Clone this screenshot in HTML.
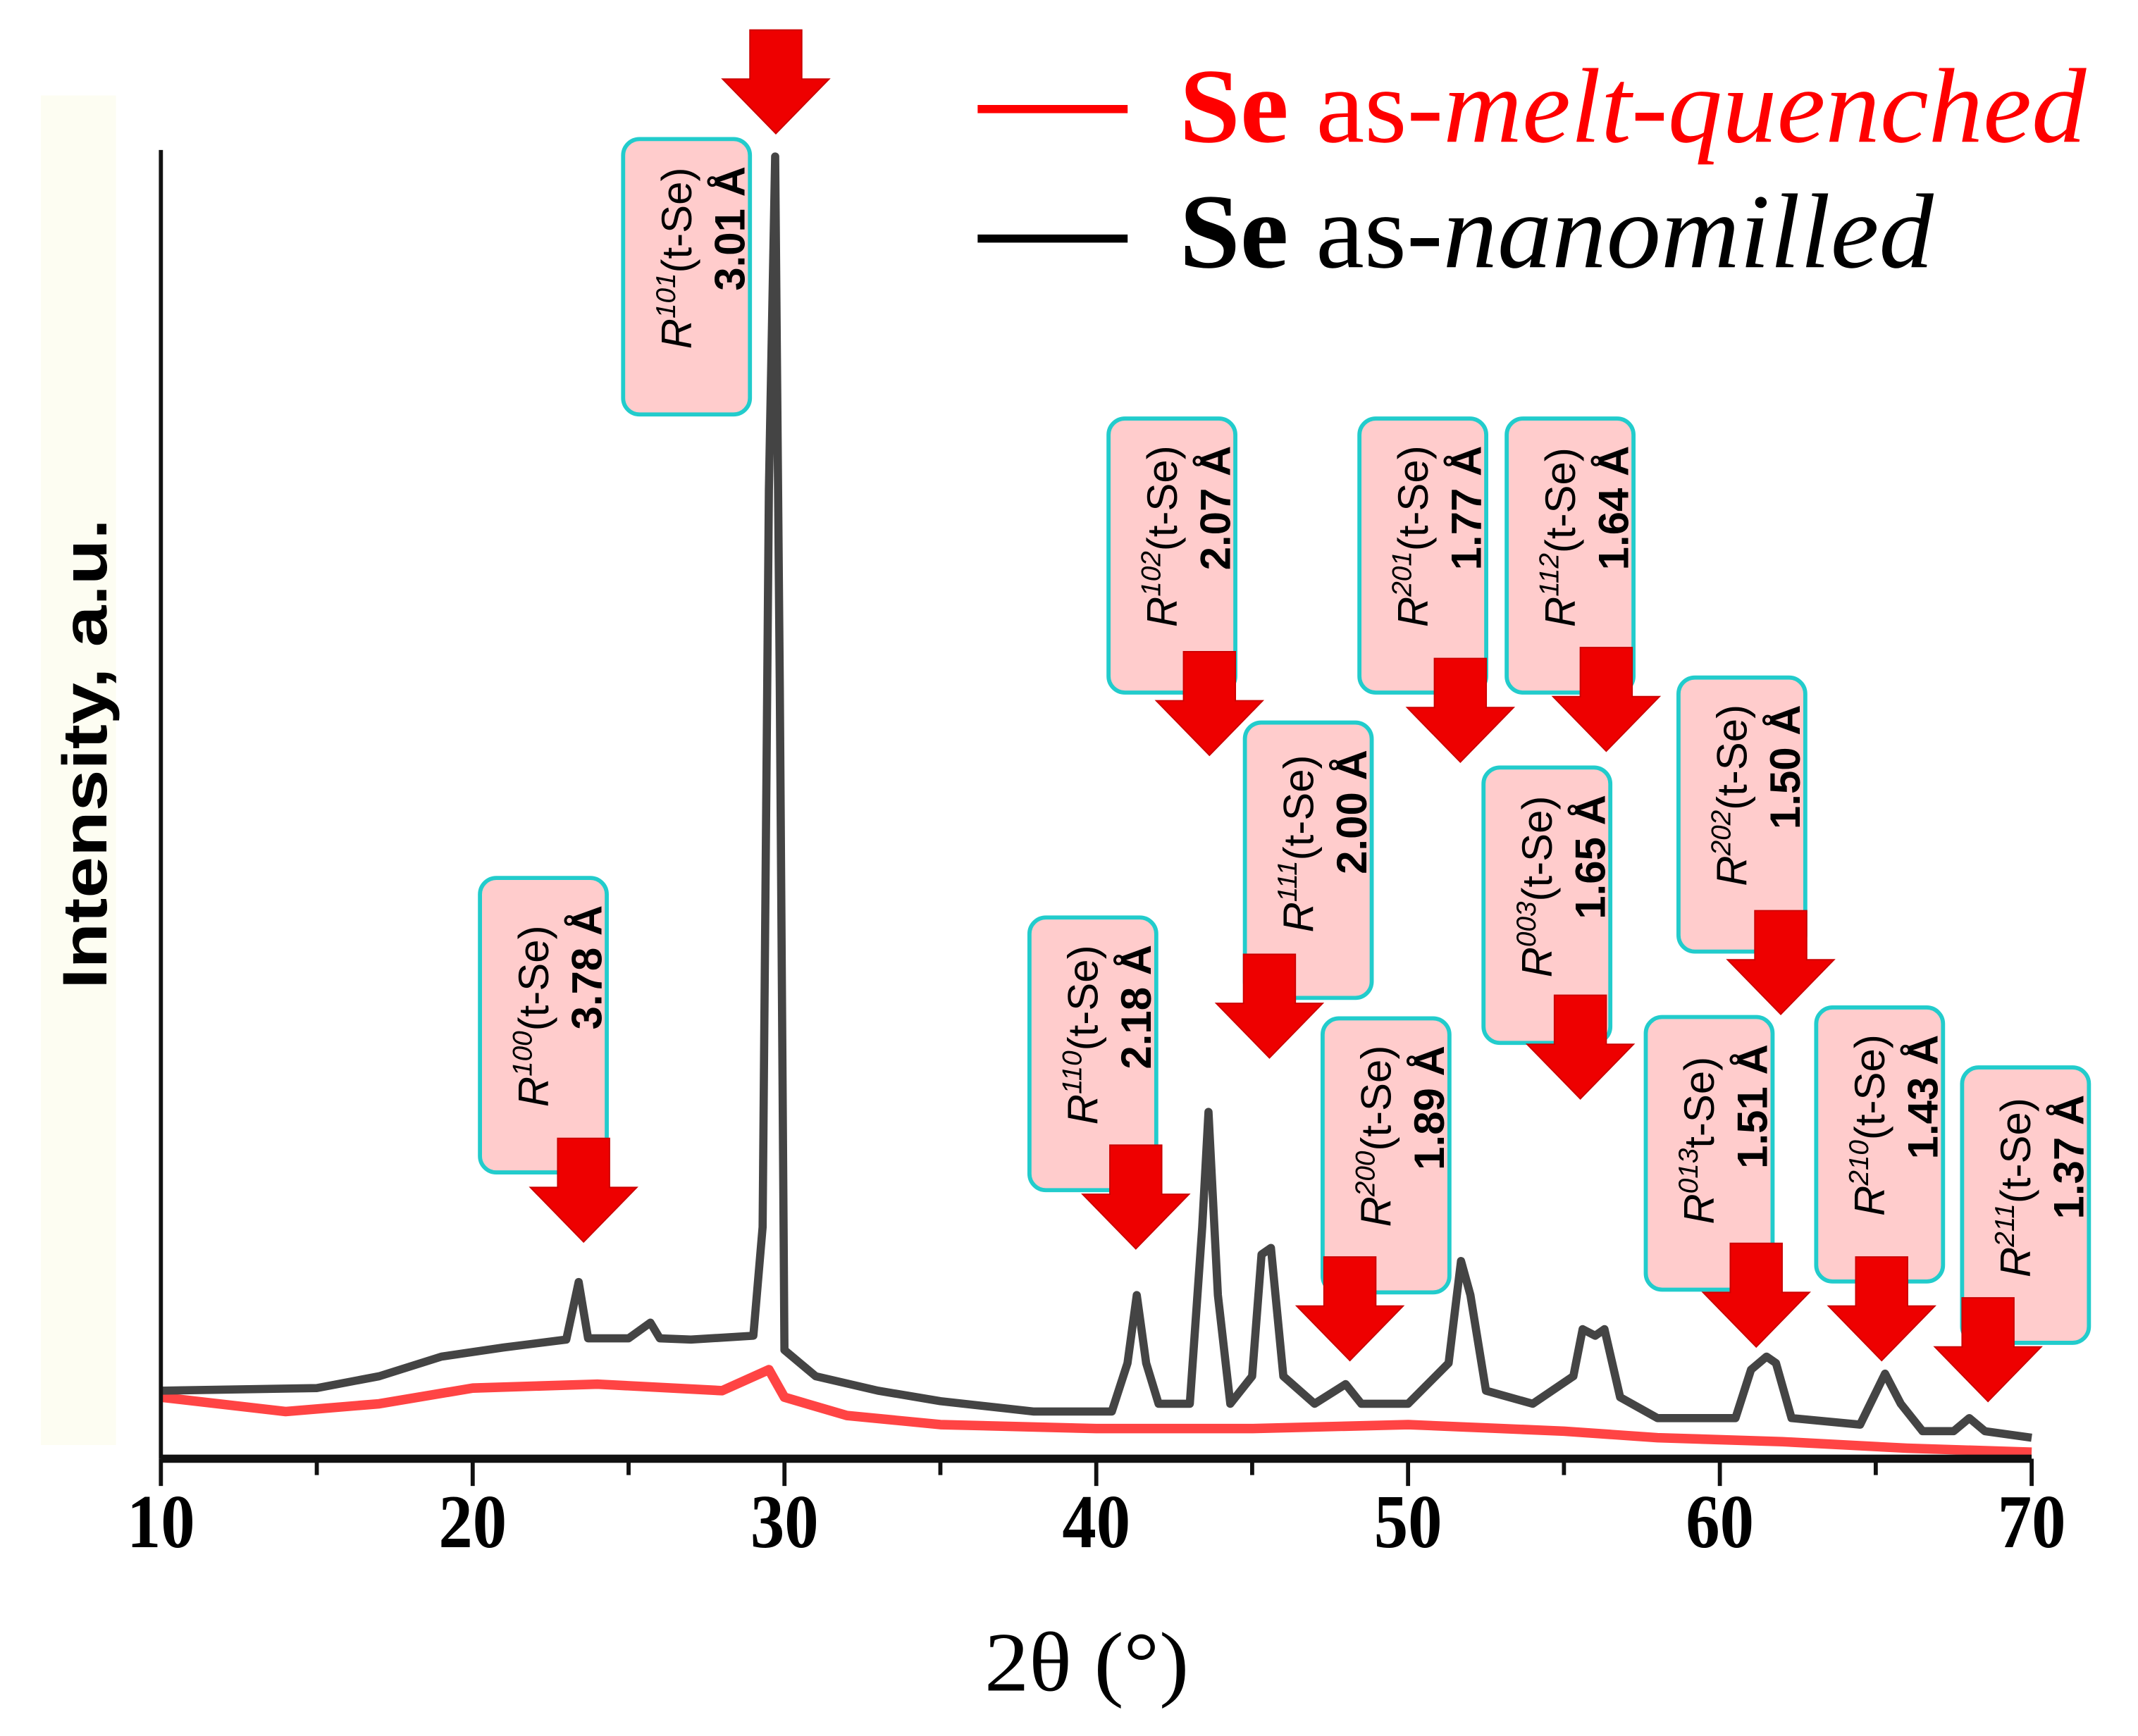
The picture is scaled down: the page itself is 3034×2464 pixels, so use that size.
<!DOCTYPE html>
<html><head><meta charset="utf-8"><style>
html,body{margin:0;padding:0;background:#fff}
svg{display:block}
</style></head><body>
<svg id="chart" width="3034" height="2464" viewBox="0 0 1568 1273.4" preserveAspectRatio="none" xmlns="http://www.w3.org/2000/svg">
<rect x="30" y="70" width="55" height="990" fill="#fdfdf2"/>
<g id="plot"></g>
<g id="axes"></g>
<g id="annots"></g>
<g>
<line x1="717" y1="80" x2="827" y2="80" stroke="#ff0000" stroke-width="6"/>
<text x="865" y="104" textLength="665" lengthAdjust="spacingAndGlyphs" font-family="'Liberation Serif',serif" font-size="78" fill="#ff0000"><tspan font-weight="bold">Se</tspan> as-<tspan font-style="italic">melt-quenched</tspan></text>
<line x1="717" y1="175" x2="827" y2="175" stroke="#000" stroke-width="6"/>
<text x="865" y="196" textLength="553" lengthAdjust="spacingAndGlyphs" font-family="'Liberation Serif',serif" font-size="78" fill="#000"><tspan font-weight="bold">Se</tspan> as-<tspan font-style="italic">nanomilled</tspan></text>
</g>
<text transform="translate(78,553) rotate(-90)" text-anchor="middle" textLength="345" lengthAdjust="spacingAndGlyphs" font-family="'Liberation Sans',sans-serif" font-weight="bold" font-size="46">Intensity, a.u.</text>
<text x="797" y="1240" text-anchor="middle" textLength="150" lengthAdjust="spacingAndGlyphs" font-family="'Liberation Serif',serif" font-size="62">2θ (°)</text>
</svg>
<script>
const nanoX=[10,15,17,19,21,23,23.4,23.7,25,25.7,26,27,29,29.3,29.5,29.7,29.85,30,31,33,35,38,40.5,41,41.3,41.6,42,43,43.4,43.6,43.9,44.3,45,45.3,45.6,46,47,48,48.5,50,51.3,51.7,52,52.5,54,55.3,55.6,56,56.3,56.8,58,60.5,61,61.5,61.8,62.3,64.5,65.3,65.8,66.5,67.5,68,68.5,70];
const nanoY=[5.2,5.4,6.3,7.8,8.5,9.1,13.5,9.2,9.2,10.4,9.2,9.1,9.4,17.7,74,99.5,59,8.3,6.3,5.2,4.4,3.6,3.6,7.3,12.5,7.3,4.2,4.2,17.7,26.5,12.5,4.2,6.3,15.6,16.1,6.3,4.2,5.7,4.2,4.2,7.3,15.1,12.5,5.2,4.2,6.3,9.9,9.4,9.9,4.7,3.1,3.1,6.8,7.8,7.3,3.1,2.6,6.5,4.2,2.1,2.1,3.1,2.1,1.6];
const meltX=[10,14,17,20,24,28,29.5,30,32,35,40,45,50,53,55,58,62,66,70];
const meltY=[4.7,3.6,4.2,5.4,5.7,5.2,6.8,4.7,3.3,2.6,2.3,2.3,2.6,2.3,2.1,1.6,1.3,0.8,0.5];
const xTicks=[10,20,30,40,50,60,70];
const peakLabels=[["100","3.78 Å"],["101","3.01 Å"],["110","2.18 Å"],["102","2.07 Å"],["111","2.00 Å"],["200","1.89 Å"],["201","1.77 Å"],["112","1.64 Å"],["003","1.65 Å"],["202","1.50 Å"],["013","1.51 Å"],["210","1.43 Å"],["211","1.37 Å"]];
const NS="http://www.w3.org/2000/svg";
const X0=118,X1=1490,Y0=1070,Y1=110;
const sx=v=>X0+(v-10)/60*(X1-X0);
const sy=v=>Y0-v/100*(Y0-Y1);
function mk(tag,attrs,parent){const e=document.createElementNS(NS,tag);for(const k in attrs)e.setAttribute(k,attrs[k]);parent.appendChild(e);return e;}
const plot=document.getElementById('plot');
let d='';meltX.forEach((x,i)=>d+=(i?'L':'M')+sx(x).toFixed(1)+','+sy(meltY[i]).toFixed(1));
const pm=mk('path',{d:d,fill:'none',stroke:'#f44',"stroke-width":7,"stroke-linejoin":'round'},plot);


d='';nanoX.forEach((x,i)=>d+=(i?'L':'M')+sx(x).toFixed(1)+','+sy(nanoY[i]).toFixed(1));
const pn=mk('path',{d:d,fill:'none',stroke:'#444',"stroke-width":6,"stroke-linejoin":'round'},plot);


const axes=document.getElementById('axes');
const ya=mk('line',{x1:X0,y1:Y1,x2:X0,y2:Y0,stroke:'#111',"stroke-width":3},axes);


const xa=mk('line',{x1:X0,y1:Y0,x2:X1,y2:Y0,stroke:'#111',"stroke-width":6},axes);


for(let v=10;v<=70;v+=5){const major=v%10===0;const t=mk('line',{x1:sx(v),y1:Y0,x2:sx(v),y2:Y0+(major?20:12),stroke:'#111',"stroke-width":3},axes);

}
xTicks.forEach(v=>{const t=mk('text',{x:sx(v),y:1135,"text-anchor":'middle',textLength:50,lengthAdjust:'spacingAndGlyphs',"font-family":"'Liberation Serif',serif","font-weight":'bold',"font-size":56},axes);t.textContent=v;

});
const boxes=[[352,644,860,428,835],[457,102,304,569,22],[755,673,873,833,840],[813,307,508,887,478],[913,530,732,931,700],[970,747,948,990,922],[997,307,508,1071,483],[1105,307,508,1178,475],[1088,563,765,1159,730],[1231,497,698,1306,668],[1207,746,946,1288,912],[1332,739,940,1380,922],[1439,783,985,1458,952]];
const an=document.getElementById('annots');
boxes.forEach((b,i)=>{const g=mk('g',{},an);


mk('rect',{x:b[0],y:b[1],width:93,height:b[2]-b[1],rx:12,fill:'#ffcccc',stroke:'#22cccc',"stroke-width":3},g);
const t1=mk('text',{transform:`translate(${b[0]+50},${b[2]-48}) rotate(-90)`,"font-family":"'Liberation Sans',sans-serif","font-size":31},g);
t1.innerHTML=`<tspan font-style="italic">R</tspan><tspan font-size="20" dy="-12" font-style="italic">${peakLabels[i][0]}</tspan><tspan dy="12">${i==10?'t-Se)':'(t-Se)'}</tspan>`;
const t2=mk('text',{transform:`translate(${b[0]+89},${b[1]+20}) rotate(-90)`,"text-anchor":'end',"font-family":"'Liberation Sans',sans-serif","font-weight":'bold',"font-size":31},g);
t2.textContent=peakLabels[i][1];
const ax=b[3],at=b[4];
const ar=mk('path',{d:`M${ax-19},${at}L${ax+19},${at}L${ax+19},${at+36}L${ax+39},${at+36}L${ax},${at+76}L${ax-39},${at+36}L${ax-19},${at+36}Z`,fill:'#ee0000',stroke:'#cc0000',"stroke-width":1},g);


});
</script>
</body></html>
